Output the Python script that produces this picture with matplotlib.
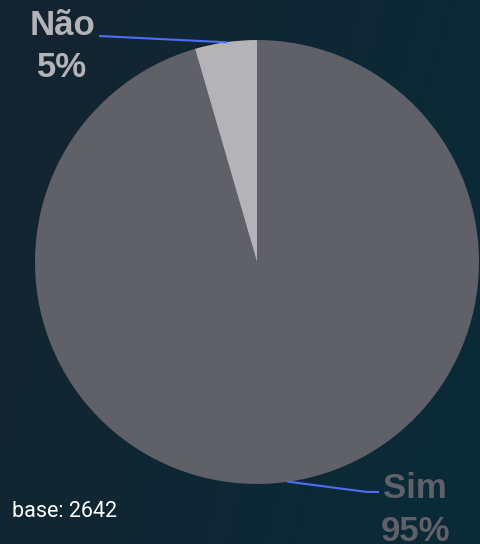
import numpy as np
import matplotlib
matplotlib.use("Agg")
import matplotlib.pyplot as plt

labels = ["Sim", "Não"]
values = [95.5, 4.5]
pct_labels = ["95%", "5%"]
colors = ["#606068", "#b4b4b8"]
base_txt = "base: 2642"

fig = plt.figure(figsize=(4.8, 5.44), dpi=100)

# fundo com degradê
bg = fig.add_axes([0, 0, 1, 1])
gx = np.linspace(0, 1, 200)
gy = np.linspace(0, 1, 200)
X, Y = np.meshgrid(gx, gy)
t = np.clip(0.75 * X + 0.25 * Y, 0, 1)
c0 = np.array([20, 36, 48]) / 255
c1 = np.array([10, 43, 57]) / 255
img = c0[None, None, :] * (1 - t[..., None]) + c1[None, None, :] * t[..., None]
bg.imshow(img, aspect="auto", extent=[0, 1, 0, 1], origin="upper")
bg.axis("off")

ax = fig.add_axes([0.0729, 0.1104, 0.925, 0.816])
wedges, _ = ax.pie(values, colors=colors, startangle=90, counterclock=False,
                   wedgeprops=dict(linewidth=0))
ax.set_xlim(-1, 1)
ax.set_ylim(-1, 1)
ax.set_aspect("auto")
ax.axis("off")

font = dict(family="Liberation Sans", fontweight="bold", fontsize=25)

# Não
w = wedges[1]
ang = np.deg2rad((w.theta1 + w.theta2) / 2)
ax.plot([np.cos(ang), -0.707], [np.sin(ang), 1.018], color="#4f6ef7", lw=1.5,
        clip_on=False)
ax.text(-0.878, 1.023, labels[1], color=colors[1], ha="center", va="baseline", **font)
ax.text(-0.878, 0.833, pct_labels[1], color=colors[1], ha="center", va="baseline", **font)

# Sim
w = wedges[0]
ang = np.deg2rad((w.theta1 + w.theta2) / 2)
ax.plot([np.cos(ang), 0.495, 0.545], [np.sin(ang), -1.036, -1.036], color="#4f6ef7",
        lw=1.5, clip_on=False)
ax.text(0.712, -1.063, labels[0], color=colors[0], ha="center", va="baseline", **font)
ax.text(0.712, -1.257, pct_labels[0], color=colors[0], ha="center", va="baseline", **font)

fig.text(12 / 480, 1 - 517 / 544, base_txt, color="white", fontsize=15.5,
         family="Roboto", ha="left", va="baseline")

fig.savefig("out.png", dpi=100)
